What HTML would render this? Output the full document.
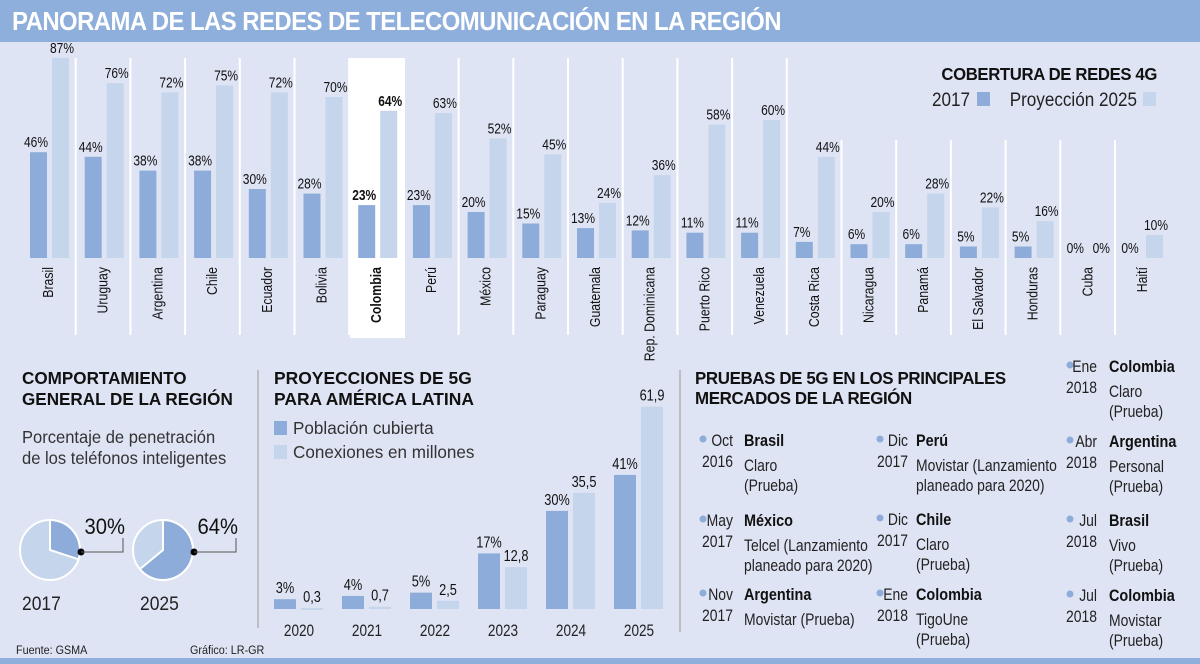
<!DOCTYPE html>
<html><head><meta charset="utf-8"><style>
html,body{margin:0;padding:0;background:#dfe4f4;}
svg{display:block;font-family:"Liberation Sans Narrow","Liberation Sans",sans-serif;}
</style></head><body>
<svg id="svg" width="1200" height="664" viewBox="0 0 1200 664" xmlns="http://www.w3.org/2000/svg">
<rect x="0" y="0" width="1200" height="664" fill="#dfe4f4"/>
<rect x="0" y="0" width="1200" height="42" fill="#8eaedb"/>
<text transform="translate(12 30) scale(0.92 1)" font-size="26" font-weight="bold" fill="#fff" letter-spacing="-0.6">PANORAMA DE LAS REDES DE TELECOMUNICACIÓN EN LA REGIÓN</text>
<rect x="350" y="58" width="55" height="280" fill="#ffffff"/>
<g id="g4"></g>
<text transform="translate(1157 80) scale(0.93 1)" text-anchor="end" font-size="18" font-weight="bold" fill="#111" letter-spacing="-0.4">COBERTURA DE REDES 4G</text>
<g>
<text transform="translate(970 106) scale(0.9 1)" font-size="19" fill="#222" text-anchor="end">2017</text>
<rect x="977" y="92" width="13" height="14" fill="#8dacd9"/>
<text transform="translate(1137 106) scale(0.9 1)" font-size="19" fill="#222" text-anchor="end">Proyección 2025</text>
<rect x="1143" y="92" width="13" height="14" fill="#c5d5ec"/>
</g>
<line x1="258" y1="370" x2="258" y2="628" stroke="#999" stroke-width="1"/>
<line x1="680" y1="370" x2="680" y2="632" stroke="#999" stroke-width="1"/>
<g>
<text transform="translate(22 384) scale(0.95 1)" font-size="18" font-weight="bold" fill="#111">COMPORTAMIENTO</text>
<text transform="translate(22 405) scale(0.95 1)" font-size="18" font-weight="bold" fill="#111">GENERAL DE LA REGIÓN</text>
<text transform="translate(22 443) scale(0.92 1)" font-size="18" fill="#333">Porcentaje de penetración</text>
<text transform="translate(22 464) scale(0.92 1)" font-size="18" fill="#333">de los teléfonos inteligentes</text>
<g id="pies"></g>
</g>
<g>
<text transform="translate(274 384) scale(0.97 1)" font-size="18" font-weight="bold" fill="#111">PROYECCIONES DE 5G</text>
<text transform="translate(274 405) scale(0.97 1)" font-size="18" font-weight="bold" fill="#111">PARA AMÉRICA LATINA</text>
<rect x="274" y="421" width="13" height="14" fill="#8dacd9"/>
<text transform="translate(293 434) scale(0.95 1)" font-size="18" fill="#333">Población cubierta</text>
<rect x="274" y="445" width="13" height="14" fill="#c5d5ec"/>
<text transform="translate(293 458) scale(0.95 1)" font-size="18" fill="#333">Conexiones en millones</text>
<g id="g5"></g>
</g>
<g>
<text transform="translate(695 384) scale(0.94 1)" font-size="18" font-weight="bold" fill="#111" letter-spacing="-0.4">PRUEBAS DE 5G EN LOS PRINCIPALES</text>
<text transform="translate(695 404) scale(0.94 1)" font-size="18" font-weight="bold" fill="#111" letter-spacing="-0.4">MERCADOS DE LA REGIÓN</text>
<g id="pr"></g>
</g>
<text transform="translate(16 654) scale(0.9 1)" font-size="12" fill="#222">Fuente: GSMA</text>
<text transform="translate(190 654) scale(0.9 1)" font-size="12" fill="#222">Gráfico: LR-GR</text>
<rect x="0" y="658" width="1200" height="6" fill="#8eaedb"/>
</svg>
<script>
const countries=["Brasil","Uruguay","Argentina","Chile","Ecuador","Bolivia","Colombia","Perú","México","Paraguay","Guatemala","Rep. Dominicana","Puerto Rico","Venezuela","Costa Rica","Nicaragua","Panamá","El Salvador","Honduras","Cuba","Haití"];
const v2017=[46,44,38,38,30,28,23,23,20,15,13,12,11,11,7,6,6,5,5,0,0];
const v2025=[87,76,72,75,72,70,64,63,52,45,24,36,58,60,44,20,28,22,16,0,10];
const years5g=["2020","2021","2022","2023","2024","2025"];
const poblacion=[3,4,5,17,30,41];
const conexiones=[0.3,0.7,2.5,12.8,35.5,61.9];
const pieYears=["2017","2025"];
const pieValues=[30,64];
const NS="http://www.w3.org/2000/svg";
function mk(parent,tag,attrs,text){const e=document.createElementNS(NS,tag);for(const k in attrs)e.setAttribute(k,attrs[k]);if(text!==undefined)e.textContent=text;parent.appendChild(e);return e;}
function T(parent,x,y,sx,attrs,text,rot){
  const a=Object.assign({fill:'#111'},attrs);
  a.transform=`translate(${x} ${y})`+(rot?` rotate(${rot})`:'')+` scale(${sx} 1)`;
  return mk(parent,'text',a,text);
}
// 4G chart
const g4=document.getElementById('g4');
const gx=i=>21+54.7*i, base4=258, y4=v=>base4-v*2.3;
for(let k=1;k<countries.length;k++){
  const top=(k>=15)?140:58;
  const l=mk(g4,'line',{x1:gx(k),x2:gx(k),y1:top,y2:335,stroke:'#fff','stroke-width':2});
  
  
}
countries.forEach((c,i)=>{
  const x=gx(i);
  const bold=c==="Colombia";
  const r1=mk(g4,'rect',{x:x+9,y:y4(v2017[i]),width:17,height:base4-y4(v2017[i]),fill:'#8dacd9'});
  
  
  const r2=mk(g4,'rect',{x:x+31,y:y4(v2025[i]),width:17,height:base4-y4(v2025[i]),fill:'#c5d5ec'});
  
  
  const t1=T(g4,x+15,y4(v2017[i])-5,0.8,{'font-size':15,'text-anchor':'middle','font-weight':bold?'bold':'normal'},v2017[i]+'%');
  
  
  const t2=T(g4,x+41,y4(v2025[i])-5,0.8,{'font-size':15,'text-anchor':'middle','font-weight':bold?'bold':'normal'},v2025[i]+'%');
  
  
  const lb=T(g4,x+32,267,0.82,{'font-size':15,'text-anchor':'end','font-weight':bold?'bold':'normal'},c,-90);
  
  
});
// pies
const pies=document.getElementById('pies');
const pcx=[50,163];
pieValues.forEach((v,i)=>{
  const cx=pcx[i],cy=550,r=30;
  const c=mk(pies,'circle',{cx,cy,r,fill:'#c5d5ec',stroke:'#fff','stroke-width':2});
  
  
  const a=v/100*2*Math.PI;
  const ex=cx+r*Math.sin(a),ey=cy-r*Math.cos(a);
  const p=mk(pies,'path',{d:`M${cx},${cy} L${cx},${cy-r} A${r},${r} 0 ${v>50?1:0} 1 ${ex},${ey} Z`,fill:'#8dacd9',stroke:'#fff','stroke-width':2});
  
  
  const dx=cx+r+1;
  const d=mk(pies,'circle',{cx:dx,cy:cy+2,r:3.5,fill:'#000'});
  
  
  const pl=mk(pies,'polyline',{points:`${dx},${cy+2} ${dx+42},${cy+2} ${dx+42},${cy-12}`,fill:'none',stroke:'#555','stroke-width':1});
  
  
  const t=T(pies,dx+44,cy-16,0.92,{'font-size':22,'text-anchor':'end'},v+'%');
  
  
  const yl=T(pies,cx-28+(i?5:0),610,0.92,{'font-size':19,fill:'#222'},pieYears[i]);
  
  
});
// 5G chart
const g5=document.getElementById('g5');
const base5=609, y5=v=>base5-v*3.27, gx5=i=>274+68*i;
years5g.forEach((yr,i)=>{
  const x=gx5(i);
  const b1=mk(g5,'rect',{x:x,y:y5(poblacion[i]),width:22,height:base5-y5(poblacion[i]),fill:'#8dacd9'});
  
  
  const b2=mk(g5,'rect',{x:x+27,y:y5(conexiones[i]),width:22,height:Math.max(2,base5-y5(conexiones[i])),fill:'#c5d5ec'});
  
  
  const t1=T(g5,x+11,y5(poblacion[i])-6,0.8,{'font-size':16,'text-anchor':'middle'},poblacion[i]+'%');
  
  
  const t2=T(g5,x+38,y5(conexiones[i])-6,0.8,{'font-size':16,'text-anchor':'middle'},String(conexiones[i]).replace('.',','));
  
  
  const yl=T(g5,x+25,636,0.8,{'font-size':17,fill:'#222','text-anchor':'middle'},yr);
  
  
});
// pruebas
const pr=document.getElementById('pr');
const entries=[
 [703,733,744,440,"Oct","2016","Brasil",["Claro","(Prueba)"]],
 [703,733,744,520,"May","2017","México",["Telcel (Lanzamiento","planeado para 2020)"]],
 [703,733,744,594,"Nov","2017","Argentina",["Movistar (Prueba)"]],
 [880,908,916,440,"Dic","2017","Perú",["Movistar (Lanzamiento","planeado para 2020)"]],
 [880,908,916,519,"Dic","2017","Chile",["Claro","(Prueba)"]],
 [880,908,916,594,"Ene","2018","Colombia",["TigoUne","(Prueba)"]],
 [1070,1097,1109,366,"Ene","2018","Colombia",["Claro","(Prueba)"]],
 [1070,1097,1109,441,"Abr","2018","Argentina",["Personal","(Prueba)"]],
 [1070,1097,1109,520,"Jul","2018","Brasil",["Vivo","(Prueba)"]],
 [1070,1097,1109,595,"Jul","2018","Colombia",["Movistar","(Prueba)"]]
];
entries.forEach(e=>{
  const [dx,mx,nx,y,m,yr,name,lines]=e;
  const d=mk(pr,'circle',{cx:dx,cy:y-1,r:3.5,fill:'#8dacd9'});
  
  
  const t=T(pr,mx,y+6,0.82,{'font-size':17,fill:'#222','text-anchor':'end'},m);
  
  
  const t2=T(pr,mx,y+27,0.82,{'font-size':17,fill:'#222','text-anchor':'end'},yr);
  
  
  const n=T(pr,nx,y+6,0.85,{'font-size':17,'font-weight':'bold'},name);
  
  
  lines.forEach((l,j)=>{
    const lt=T(pr,nx,y+31+j*20,0.82,{'font-size':17,fill:'#222'},l);
    
    
  });
});
</script>
</body></html>
